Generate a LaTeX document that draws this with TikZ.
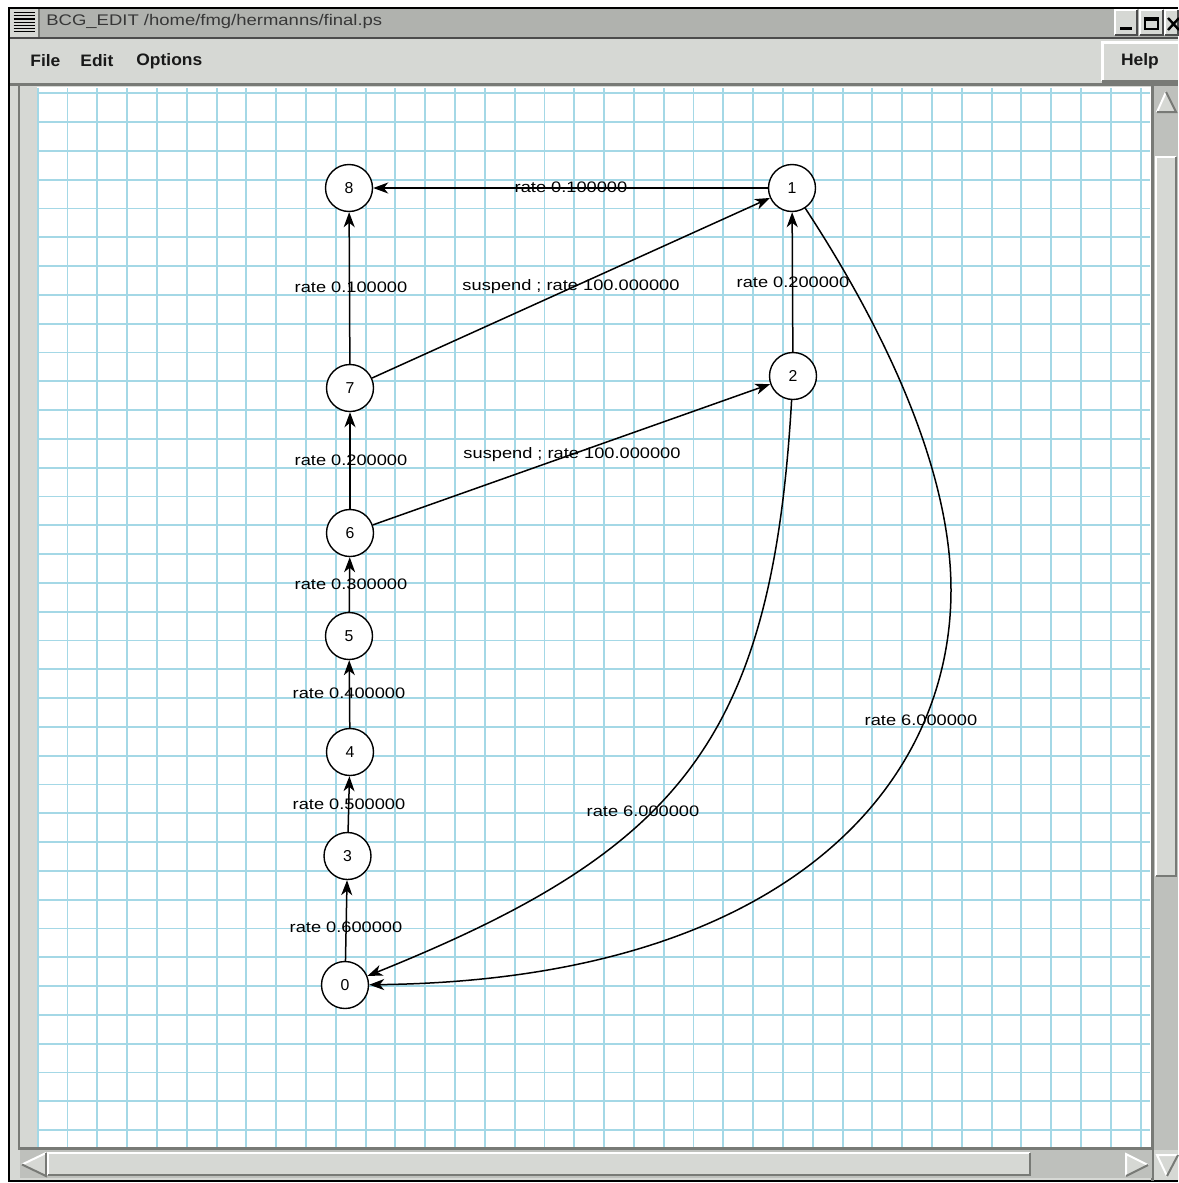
\documentclass[tikz,border=0pt]{standalone}
\usepackage{fontspec}
\setmainfont{Liberation Sans}
\usetikzlibrary{arrows.meta}
\newfontfamily\labfont[FakeStretch=1.2]{Liberation Sans}
\newfontfamily\menufont[FakeStretch=1.05]{Liberation Sans}
\newfontfamily\numfont{Liberation Sans}
\definecolor{chrome}{RGB}{214,216,212}
\definecolor{titleg}{RGB}{176,178,174}
\definecolor{trough}{RGB}{190,192,188}
\definecolor{darkl}{RGB}{120,122,118}
\definecolor{gridc}{RGB}{164,216,230}
\definecolor{titletext}{RGB}{55,55,55}
\begin{document}
\begin{tikzpicture}[x=0.5pt,y=-0.5pt,
  gridl/.style={draw=gridc,line width=0.95pt},
  st/.style={circle,draw=black,fill=white,line width=0.7pt,minimum size=23.5pt,inner sep=0pt,font=\numfont\fontsize{7.9pt}{9pt}\selectfont},
  edge/.style={line width=0.75pt,-{Stealth[length=7.5pt,width=5.5pt,inset=2.2pt]}},
  lab/.style={inner sep=0pt,font=\labfont\fontsize{7.6pt}{9pt}\selectfont},
  menu/.style={inner sep=0pt,anchor=west,font=\menufont\bfseries\fontsize{8.3pt}{10pt}\selectfont,text=black!90},
  bevlight/.style={draw=white,line width=1pt},
  bevdark/.style={draw=darkl,line width=1pt}]
\useasboundingbox (0,0) rectangle (1178,1183);
\fill[white] (0,0) rectangle (1178,1183);
% window frame
\fill[chrome] (9,7) rectangle (1178,1181);
\draw[black,line width=1pt] (1178,7.5) -- (9,7.5) -- (9,1181) -- (1178,1181);
% title bar
\fill[titleg] (39,9) rectangle (1178,37);
\fill[chrome] (11,9) rectangle (38,36);
\draw[darkl,line width=1pt] (38.5,9) -- (38.5,37);
\foreach \k in {0,...,6} \draw[black,line width=0.6pt] (13.5,{12.5+3.2*\k}) -- (34.5,{12.5+3.2*\k});
\draw[black!70,line width=1pt] (10,37.5) -- (1178,37.5);
\node[anchor=west,inner sep=0pt,text=titletext,font=\labfont\fontsize{7.7pt}{9pt}\selectfont] (title) at (46,22) {BCG\_EDIT /home/fmg/hermanns/final.ps};
% title buttons
\foreach \a/\b in {1115/1137,1140/1163,1165/1178} {
  \fill[chrome] (\a,10) rectangle (\b,35);
  \draw[bevlight] (\a,35) -- (\a,10) -- (\b,10);
  \draw[black!70,line width=1pt] (\b,10) -- (\b,35) -- (\a,35);
}
\fill[black] (1120,27) rectangle (1132,29.5);
\draw[black,line width=0.8pt] (1145,18) rectangle (1158,29);
\fill[black] (1145,18) rectangle (1158,20.5);
\draw[black,line width=1.2pt] (1168,18) -- (1179,30) (1168,30) -- (1179,18);
% menu bar
\fill[darkl] (10,83) rectangle (1178,86);
\node[menu] (mfile) at (30,61) {File};
\node[menu] (medit) at (80,61) {Edit};
\node[menu] (mopt) at (136,61) {Options};
\fill[chrome] (1102,42) rectangle (1178,81);
\draw[white,line width=1.5pt] (1102,81) -- (1102,42) -- (1178,42);
\draw[darkl,line width=1.5pt] (1102,81) -- (1178,81);
\node[menu,anchor=center] (help) at (1140,61) {Help};
% canvas
\fill[darkl] (18,86) rectangle (20,1148);
\fill[chrome] (20,87) rectangle (37,1148);
\fill[white] (37,87) rectangle (1151,1148);
\foreach \k in {0,...,37} \draw[gridl] ({37.7+29.81*\k},88) -- ({37.7+29.81*\k},1147);
\foreach \k in {0,...,36} \draw[gridl] (37,{93.3+28.8*\k}) -- (1150,{93.3+28.8*\k});
% vertical scrollbar
\fill[trough] (1152,86) rectangle (1178,1150);
\draw[darkl,line width=1.2pt] (1152.5,86) -- (1152.5,1181);
\fill[chrome] (1166,92) -- (1157,112) -- (1176,112) -- cycle;
\draw[bevlight] (1157,112) -- (1166,92);
\draw[bevdark] (1166,92) -- (1176,112) -- (1157,112);
\fill[chrome] (1156,157) rectangle (1176,876);
\draw[bevlight] (1156,876) -- (1156,157) -- (1176,157);
\draw[bevdark] (1176,157) -- (1176,876) -- (1156,876);
% horizontal scrollbar
\fill[trough] (20,1149) rectangle (1152,1178);
\draw[darkl,line width=1.5pt] (18,1148.5) -- (1152,1148.5);
\fill[chrome] (22,1164.5) -- (46,1153) -- (46,1176) -- cycle;
\draw[bevlight] (46,1153) -- (22,1164.5);
\draw[bevdark] (22,1164.5) -- (46,1176) -- (46,1153);
\fill[chrome] (48,1153) rectangle (1030,1175);
\draw[bevlight] (48,1175) -- (48,1153) -- (1030,1153);
\draw[bevdark] (1030,1153) -- (1030,1175) -- (48,1175);
\fill[chrome] (1148,1165) -- (1126,1154) -- (1126,1176) -- cycle;
\draw[bevlight] (1126,1176) -- (1126,1154) -- (1148,1165);
\draw[bevdark] (1148,1165) -- (1126,1176);
\fill[chrome] (1167,1176) -- (1157,1155) -- (1178,1155) -- cycle;
\draw[bevlight] (1167,1176) -- (1157,1155) -- (1178,1155);
\draw[bevdark] (1178,1155) -- (1167,1176);
% states
\node[st] (n8) at (349,188) {8};
\node[st] (n1) at (792,188) {1};
\node[st] (n7) at (350,388) {7};
\node[st] (n2) at (793,376) {2};
\node[st] (n6) at (350,533) {6};
\node[st] (n5) at (349,636) {5};
\node[st] (n4) at (350,752) {4};
\node[st] (n3) at (347.5,856) {3};
\node[st] (n0) at (345,985) {0};
\coordinate (m1) at (951,590);
% transitions
\draw[edge] (n1) -- (n8);
\draw[edge] (n7) -- (n8);
\draw[edge] (n7) -- (n1);
\draw[edge] (n2) -- (n1);
\draw[edge] (n6) -- (n7);
\draw[edge] (n6) -- (n2);
\draw[edge] (n5) -- (n6);
\draw[edge] (n4) -- (n5);
\draw[edge] (n3) -- (n4);
\draw[edge] (n0) -- (n3);
\draw[edge] (n2) .. controls (772,740) and (680,850) .. (n0);
\draw[edge] (n1) .. controls (885,330) and (951,470) .. (m1) .. controls (951,790) and (780,980) .. (n0);
% labels
\node[lab] (l18) at (571,187) {rate 0.100000};
\node[lab] (l78) at (351,287) {rate 0.100000};
\node[lab] (l71) at (571,287) {suspend ; rate 100.000000};
\node[lab] (l21) at (793,282) {rate 0.200000};
\node[lab] (l67) at (351,460) {rate 0.200000};
\node[lab] (l62) at (572,455) {suspend ; rate 100.000000};
\node[lab] (l56) at (351,584) {rate 0.300000};
\node[lab] (l45) at (349,693) {rate 0.400000};
\node[lab] (l34) at (349,804) {rate 0.500000};
\node[lab] (l03) at (346,927) {rate 0.600000};
\node[lab] (l20) at (643,811) {rate 6.000000};
\node[lab] (l10) at (921,720) {rate 6.000000};
\end{tikzpicture}
\end{document}
